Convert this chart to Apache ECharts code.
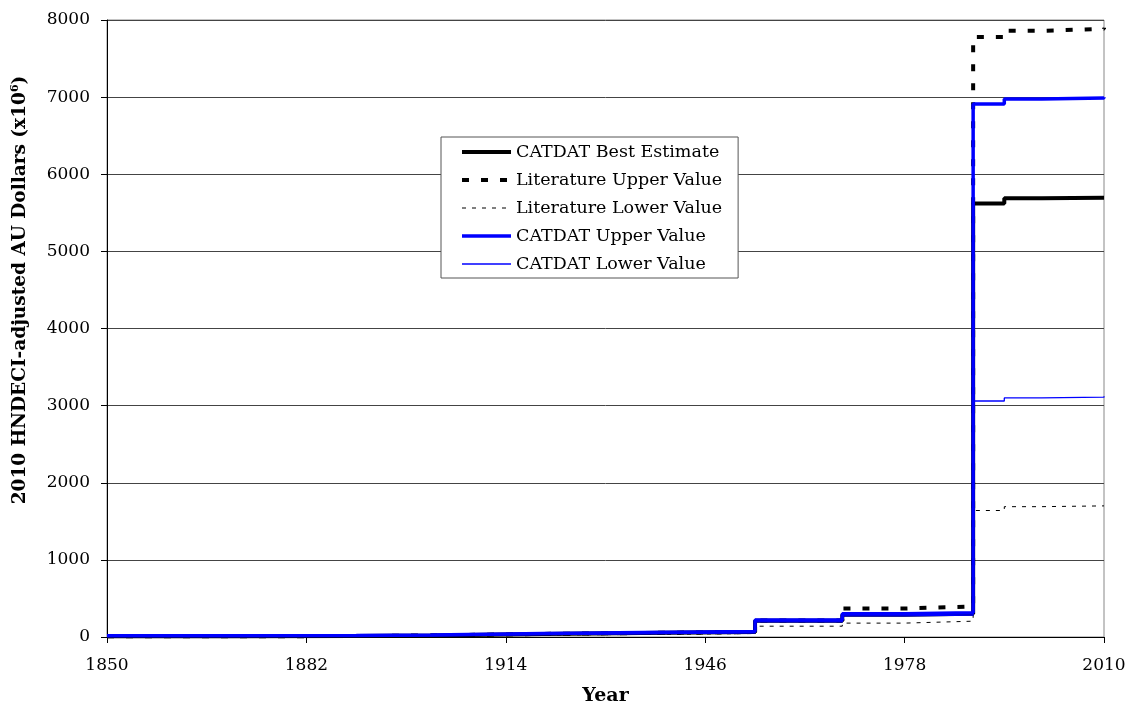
<!DOCTYPE html>
<html lang="en">
<head>
    <meta charset="UTF-8">
    <title>CATDAT loss estimates</title>
    <script src="https://cdn.jsdelivr.net/npm/echarts@6/dist/echarts.min.js"></script>
    <style>
        html, body { margin: 0; padding: 0; background: #fff; }
        #chart { width: 1131px; height: 709px; }
    </style>
</head>
<body>
    <div id="chart"></div>
    <script>
        // step years and values (2010 HNDECI-adjusted AU$ millions)
        var years = [1850, 1870, 1890, 1902, 1920, 1940, 1954, 1968, 1978, 1989, 1994, 2000, 2010];
        var bestEstimate = [10, 12, 20, 40, 55, 65, 210, 290, 300, 5620, 5690, 5695, 5700];
        var litUpper     = [10, 12, 20, 40, 55, 65, 215, 370, 395, 7780, 7860, 7885, 7900];
        var litLower     = [5, 8, 12, 25, 35, 45, 140, 180, 205, 1640, 1690, 1700, 1700];
        var catUpper     = [15, 18, 25, 45, 60, 70, 220, 300, 315, 6910, 6975, 6990, 7000];
        var catLower     = [8, 10, 15, 30, 45, 55, 195, 275, 285, 3060, 3100, 3110, 3120];

        var serif = 'DejaVu Serif';

        function pairs(vals) {
            return years.map(function (y, i) { return [y, vals[i]]; });
        }
        function plain(v) { return String(v); }

        var styles = {
            best:   { color: '#000', width: 4, type: 'solid' },
            litUp:  { color: '#000', width: 4, type: [7, 12] },
            litLow: { color: '#000', width: 1, type: [4, 6] },
            catUp:  { color: '#0000ff', width: 3.5, type: 'solid' },
            catLow: { color: '#0000ff', width: 1.3, type: 'solid' }
        };

        var chart = echarts.init(document.getElementById('chart'));

        var option = {
            animation: false,
            backgroundColor: '#fff',
            grid: {
                left: 107, right: 27, top: 20, bottom: 72,
                outerBoundsMode: 'none',
                containLabel: false,
                show: true, borderColor: '#888', borderWidth: 1
            },
            graphic: [{
                type: 'text',
                x: 20, y: 290,
                rotation: Math.PI / 2,
                style: {
                    text: '{a|2010 HNDECI-adjusted AU Dollars (x10}{s|6}{a|)}',
                    align: 'center', verticalAlign: 'middle',
                    rich: {
                        a: { fontFamily: serif, fontSize: 18.5, fontWeight: 'bold', fill: '#000' },
                        s: { fontFamily: serif, fontSize: 11, fontWeight: 'bold', fill: '#000', verticalAlign: 'bottom', padding: [0, 0, 9, 0] }
                    }
                }
            }],
            legend: {
                orient: 'vertical',
                left: 441, top: 137,
                padding: [6, 16, 5, 19],
                itemGap: 10,
                itemWidth: 49, itemHeight: 14,
                borderColor: '#555', borderWidth: 1,
                backgroundColor: '#fff',
                itemStyle: { opacity: 0, color: 'transparent', borderWidth: 0 },
                textStyle: { fontFamily: serif, fontSize: 17.5, color: '#000' },
                data: [
                    { name: 'CATDAT Best Estimate', lineStyle: styles.best },
                    { name: 'Literature Upper Value', lineStyle: styles.litUp },
                    { name: 'Literature Lower Value', lineStyle: styles.litLow },
                    { name: 'CATDAT Upper Value', lineStyle: styles.catUp },
                    { name: 'CATDAT Lower Value', lineStyle: styles.catLow }
                ]
            },
            xAxis: {
                type: 'value',
                min: 1850, max: 2010, interval: 32,
                name: 'Year',
                nameLocation: 'middle',
                nameGap: 50,
                nameTextStyle: { fontFamily: serif, fontSize: 19, fontWeight: 'bold', color: '#000' },
                axisLine: { lineStyle: { color: '#000', width: 1 } },
                axisTick: { show: true, length: 6, lineStyle: { color: '#000' } },
                axisLabel: { fontFamily: serif, fontSize: 17, color: '#000', margin: 20, formatter: plain },
                splitLine: { show: false }
            },
            yAxis: {
                type: 'value',
                min: 0, max: 8000, interval: 1000,
                axisLine: { show: true, lineStyle: { color: '#000', width: 1 } },
                axisTick: { show: true, length: 6, lineStyle: { color: '#000' } },
                axisLabel: { fontFamily: serif, fontSize: 17, color: '#000', margin: 17, formatter: plain },
                splitLine: { show: true, lineStyle: { color: '#444', width: 1 } }
            },
            series: [
                {
                    name: 'CATDAT Best Estimate', type: 'line', step: 'end', symbol: 'none',
                    data: pairs(bestEstimate), z: 3,
                    lineStyle: styles.best, itemStyle: { color: '#000' }
                },
                {
                    name: 'Literature Upper Value', type: 'line', step: 'end', symbol: 'none',
                    data: pairs(litUpper), z: 2,
                    lineStyle: styles.litUp, itemStyle: { color: '#000' }
                },
                {
                    name: 'Literature Lower Value', type: 'line', step: 'end', symbol: 'none',
                    data: pairs(litLower), z: 2,
                    lineStyle: styles.litLow, itemStyle: { color: '#000' }
                },
                {
                    name: 'CATDAT Upper Value', type: 'line', step: 'end', symbol: 'none',
                    data: pairs(catUpper), z: 4,
                    lineStyle: styles.catUp, itemStyle: { color: '#0000ff' }
                },
                {
                    name: 'CATDAT Lower Value', type: 'line', step: 'end', symbol: 'none',
                    data: pairs(catLower), z: 4,
                    lineStyle: styles.catLow, itemStyle: { color: '#0000ff' }
                }
            ]
        };

        chart.setOption(option);
    </script>
</body>
</html>
